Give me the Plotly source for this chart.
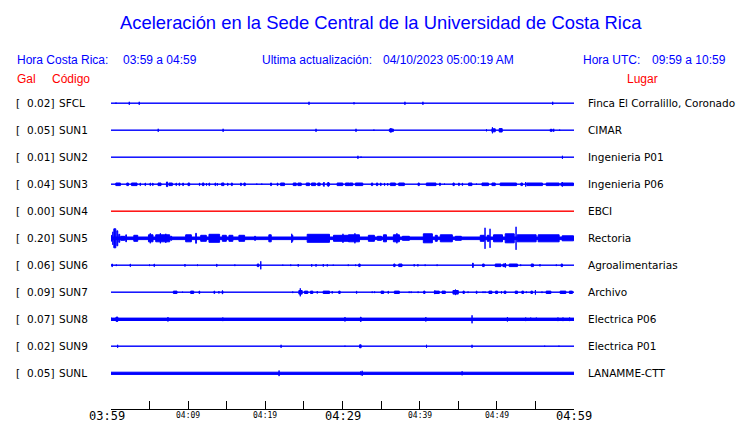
import plotly.graph_objects as go

# ---------------- data ----------------
STATIONS = ["SFCL", "SUN1", "SUN2", "SUN3", "SUN4", "SUN5", "SUN6", "SUN7", "SUN8", "SUN9", "SUNL"]
PEAK_GAL = [0.02, 0.05, 0.01, 0.04, 0.00, 0.20, 0.06, 0.09, 0.07, 0.02, 0.05]
PLACES = ["Finca El Corralillo, Coronado", "CIMAR", "Ingenieria P01", "Ingenieria P06", "EBCI",
          "Rectoria", "Agroalimentarias", "Archivo", "Electrica P06", "Electrica P01", "LANAMME-CTT"]
# background (noise) half-amplitude of each trace, in trace units
BASE_AMP = [0.6, 0.6, 0.6, 0.6, 0.6, 1.8, 0.6, 0.6, 1.7, 0.6, 1.6]

# events: (start minute, end minute, half-amplitude) ; minutes counted from 03:59
EV_SFCL = [(0.65, 0.65, 1.2), (2.37, 2.37, 2), (3.66, 3.66, 2), (25.66, 25.66, 2), (31.49, 31.49, 1.5),
           (38.09, 38.09, 2), (40.42, 40.42, 2), (57.24, 57.24, 2)]
EV_SUN1 = [(6.12, 6.12, 2), (14.53, 14.53, 2), (26.57, 26.57, 2), (31.75, 31.75, 2), (34.07, 34.07, 1.2),
           (36.01, 36.66, 1.8), (36.27, 36.27, 2.8), (48.66, 48.66, 1.5), (49.30, 49.86, 2), (49.43, 49.43, 3.5),
           (50.24, 50.76, 2.2), (56.85, 57.24, 1.5), (57.37, 57.37, 2), (58.14, 58.14, 1.2)]
EV_SUN2 = [(32.0, 32.0, 2), (32.4, 32.4, 1.2), (58.5, 58.5, 2)]
EV_SUN3 = [(0.56, 1.29, 1.8), (1.98, 2.33, 1.8), (2.59, 3.44, 1.8), (3.70, 3.88, 1.8), (4.35, 4.53, 1.8),
           (4.99, 5.18, 1.8), (5.34, 5.51, 1.8), (6.03, 6.55, 1.8), (7.12, 7.41, 2.8), (7.45, 8.02, 1.8),
           (8.36, 8.54, 1.8), (8.75, 8.97, 1.8), (9.23, 9.45, 1.8), (9.91, 10.26, 1.8), (11.39, 11.56, 1.8),
           (11.78, 12.11, 1.8), (12.33, 12.42, 1.8), (12.63, 12.85, 1.8), (13.41, 13.63, 1.8), (13.79, 13.79, 1.8),
           (14.27, 14.70, 1.8), (15.05, 15.22, 1.8), (15.53, 15.79, 1.8), (16.73, 16.95, 1.8), (17.16, 17.47, 1.8),
           (18.89, 18.89, 1.2), (19.54, 19.54, 1.2), (20.61, 20.87, 1.8), (21.48, 21.69, 1.8), (21.91, 22.55, 1.8),
           (23.55, 24.07, 1.8), (24.15, 24.72, 1.8), (25.23, 25.79, 1.8), (25.92, 26.57, 1.8), (26.73, 27.17, 1.8),
           (27.43, 27.64, 1.8), (27.60, 27.60, 2.8), (27.95, 28.38, 1.8), (28.16, 28.16, 2.8), (29.24, 30.10, 1.8),
           (30.32, 30.97, 1.8), (30.88, 31.40, 1.8), (31.61, 32.69, 1.8), (33.68, 33.98, 1.8), (34.33, 34.63, 1.8),
           (34.85, 35.07, 1.8), (35.37, 35.53, 1.8), (35.79, 35.92, 1.8), (36.14, 36.92, 1.8), (37.22, 38.08, 1.8),
           (39.73, 40.02, 1.8), (40.80, 42.18, 1.8), (42.52, 42.74, 1.8), (43.22, 43.22, 1.2), (44.25, 44.55, 1.8),
           (44.98, 45.20, 1.8), (45.46, 45.63, 1.8), (46.27, 46.84, 1.8), (47.36, 47.36, 1.2), (48.01, 48.99, 1.8),
           (49.30, 49.86, 1.8), (50.37, 52.61, 1.8), (53.05, 53.39, 1.8), (53.74, 53.74, 2.8), (53.83, 55.98, 1.8),
           (56.33, 58.14, 1.8), (58.23, 60.00, 1.8), (58.49, 58.49, 2.8)]
EV_SUN4 = []
EV_SUN5 = [(0.00, 0.17, 3.5), (0.17, 0.30, 7), (0.30, 0.69, 10), (0.69, 0.94, 8), (0.94, 1.20, 4.5),
           (1.20, 1.85, 2.5), (1.85, 2.07, 4), (2.89, 3.53, 3.5), (4.79, 5.51, 4), (5.09, 5.09, 5.5),
           (5.73, 7.67, 4), (6.40, 6.40, 5.5), (7.10, 7.10, 5), (7.67, 7.93, 2.5), (9.61, 10.48, 4),
           (10.91, 11.13, 5.5), (11.56, 12.42, 3.5), (12.63, 14.14, 4.5), (14.36, 15.01, 3.5), (15.22, 15.86, 3.5),
           (16.51, 17.38, 3.5), (18.54, 18.80, 2.5), (20.39, 20.83, 4), (23.42, 23.63, 3.5), (23.42, 23.42, 5),
           (25.36, 28.38, 4.5), (28.77, 30.97, 3.5), (30.06, 30.06, 5), (30.71, 32.26, 4), (31.61, 31.61, 5.5),
           (33.29, 34.20, 3.5), (34.46, 35.11, 2.5), (35.24, 35.76, 4), (36.53, 37.44, 4), (37.05, 37.05, 5.5),
           (37.70, 38.73, 2.5), (40.41, 41.71, 5), (41.96, 42.35, 3.5), (42.61, 44.30, 4), (44.55, 45.46, 2.5),
           (47.79, 48.43, 3.5), (48.47, 48.47, 11), (48.69, 49.08, 3.5), (49.12, 49.12, 10), (49.51, 50.80, 4),
           (51.02, 52.32, 5), (52.49, 52.49, 12), (52.57, 55.16, 4), (55.29, 58.14, 4), (58.40, 60.00, 3)]
EV_SUN6 = [(0.04, 0.26, 1.8), (0.69, 0.69, 1.3), (2.41, 2.59, 1.8), (4.99, 4.99, 1.3), (5.51, 5.69, 1.8),
           (9.52, 9.65, 1.8), (11.21, 11.21, 1.3), (13.63, 13.79, 1.8), (16.05, 16.05, 1.3), (18.89, 19.23, 1.8),
           (19.41, 19.41, 4.5), (22.26, 22.26, 1.1), (23.29, 23.29, 1.3), (24.20, 24.33, 1.8), (26.01, 26.01, 1.8),
           (26.57, 26.57, 1.8), (27.51, 27.51, 1.8), (28.03, 28.03, 1.6), (28.80, 28.80, 1.1), (30.75, 30.75, 1.3),
           (31.70, 31.70, 1.3), (32.04, 32.35, 1.8), (36.57, 36.88, 1.8), (37.22, 37.78, 1.8), (39.29, 39.29, 1.6),
           (39.77, 39.77, 1.6), (40.71, 40.71, 1.3), (42.26, 42.26, 1.3), (46.79, 47.01, 2.7), (48.09, 48.43, 1.8),
           (49.73, 50.60, 1.8), (50.72, 51.24, 1.8), (51.11, 51.11, 2.7), (51.54, 52.74, 1.8), (53.09, 53.09, 1.3),
           (54.39, 54.81, 1.8), (55.59, 55.59, 1.6), (57.71, 57.71, 1.3), (58.27, 58.57, 1.8)]
EV_SUN7 = [(8.02, 8.62, 1.7), (9.27, 9.27, 1.1), (10.26, 10.78, 1.7), (11.34, 11.56, 1.7), (13.28, 13.50, 1.7),
           (13.92, 14.05, 1.7), (14.36, 14.57, 1.7), (14.44, 14.44, 2.3), (23.55, 23.55, 1.3), (24.28, 24.84, 2.3),
           (24.53, 24.53, 4.5), (25.01, 25.57, 1.7), (25.79, 26.22, 1.7), (26.73, 26.73, 1.7), (27.43, 28.38, 1.7),
           (28.67, 28.67, 1.7), (29.45, 29.76, 1.7), (31.74, 31.91, 1.7), (33.85, 33.85, 1.3), (34.16, 34.16, 1.3),
           (34.94, 35.40, 1.7), (35.84, 36.01, 1.7), (36.66, 37.43, 1.7), (38.64, 38.64, 1.3), (38.90, 38.90, 1.3),
           (39.80, 39.80, 1.3), (40.45, 40.76, 1.7), (41.84, 42.61, 1.7), (41.96, 41.96, 2.3), (42.83, 43.39, 1.7),
           (44.25, 45.07, 2.3), (44.64, 44.64, 3.3), (45.55, 45.85, 1.7), (46.27, 46.27, 1.3), (47.27, 47.49, 1.7),
           (48.21, 48.21, 1.3), (48.47, 48.47, 1.3), (48.91, 49.43, 1.7), (49.77, 50.16, 1.7), (50.60, 50.60, 1.7),
           (50.89, 51.24, 1.7), (52.32, 52.74, 1.7), (53.18, 53.52, 1.7), (53.83, 53.83, 1.3), (54.35, 54.69, 1.7),
           (55.00, 55.00, 2.8), (55.85, 55.85, 1.3), (56.33, 57.07, 1.7), (58.14, 59.01, 1.7), (59.34, 59.86, 1.7)]
EV_SUN8 = [(0.00, 0.13, 2), (0.56, 0.98, 2.3), (0.78, 0.78, 3.2), (7.38, 7.38, 2.7), (14.49, 14.49, 2.3),
           (30.32, 30.32, 2.7), (32.26, 32.48, 2.7), (40.80, 40.80, 2.7), (46.79, 46.79, 4.5), (51.37, 51.37, 2.7),
           (53.74, 53.74, 2.3), (54.39, 54.39, 2.2), (55.12, 55.12, 2.2), (57.92, 57.92, 2.3), (58.57, 58.57, 2.3),
           (59.43, 59.43, 2.3)]
EV_SUN9 = [(0.86, 0.86, 2), (22.04, 22.04, 2), (30.32, 30.32, 1.1), (32.15, 32.48, 2), (40.89, 40.89, 2),
           (46.72, 46.85, 2), (56.20, 56.20, 1.1), (58.05, 58.05, 1.1)]
EV_SUNL = [(21.78, 21.78, 3.3), (32.35, 32.35, 2.3), (32.55, 32.55, 3), (45.50, 45.50, 2.5)]
EVENTS = [EV_SFCL, EV_SUN1, EV_SUN2, EV_SUN3, EV_SUN4, EV_SUN5, EV_SUN6, EV_SUN7, EV_SUN8, EV_SUN9, EV_SUNL]

TICK_MINUTES = [0, 5, 10, 15, 20, 25, 30, 35, 40, 45, 50, 55, 60]
MAJOR_TICK_MIN = [0, 30, 60]
MAJOR_TICK_TXT = ["03:59", "04:29", "04:59"]
MINOR_TICK_MIN = [10, 20, 40, 50]
MINOR_TICK_TXT = ["04:09", "04:19", "04:39", "04:49"]

TITLE = "Aceleración en la Sede Central de la Universidad de Costa Rica"
LOCAL_RANGE = "03:59 a 04:59"
UTC_RANGE = "09:59 a 10:59"
UPDATED = "04/10/2023 05:00:19 AM"

# ---------------- layout geometry ----------------
W, H = 740, 423
L, R, T, B = 111, 166, 90, 14
PW, PH = W - L - R, H - T - B
PX_PER_MIN = PW / 60.0
ROW_PX = 27.0
ROW0_PX = 103.3
AXIS_PX = H - B


def px_x(px):
    return (px - L) / PW


def px_y(py):
    return (AXIS_PX - py) / PH


BLUE = "#0000ff"
RED = "#ff0000"

fig = go.Figure()

for i, name in enumerate(STATIONS):
    color = RED if PEAK_GAL[i] == 0 else BLUE
    xs, ys = [], []

    def rect(t0, t1, a):
        h = max(a - 0.5, 0.0) / ROW_PX
        d = 0.5 / PX_PER_MIN
        a0, a1 = t0 + d, t1 - d
        if a1 < a0:
            a0 = a1 = (t0 + t1) / 2
        xs.extend([a0, a1, a1, a0, a0, None])
        ys.extend([i - h, i - h, i + h, i + h, i - h, None])

    rect(-0.2, 60.2, BASE_AMP[i])
    for (t0, t1, a) in EVENTS[i]:
        rect(t0, t1, a)
    fig.add_trace(go.Scatter(x=xs, y=ys, mode="lines", fill="toself", fillcolor=color,
                             line=dict(color=color, width=1), hoverinfo="skip", showlegend=False))

annotations = []


def ann(text, xpx, ypx, size, color, family, xanchor="left", yanchor="middle"):
    annotations.append(dict(text=text, x=px_x(xpx), y=px_y(ypx), xref="paper", yref="paper",
                            xanchor=xanchor, yanchor=yanchor, showarrow=False,
                            font=dict(size=size, color=color, family=family)))


SANS = "Liberation Sans, Arial, sans-serif"
DJ = "DejaVu Sans, sans-serif"
MONO = "DejaVu Sans Mono, monospace"

ann(TITLE, 381, 22, 18.4, BLUE, SANS, xanchor="center")
ann("Hora Costa Rica:", 15, 60, 12, BLUE, SANS)
ann(LOCAL_RANGE, 121, 60, 12, BLUE, SANS)
ann("Ultima actualización:", 260, 60, 12, BLUE, SANS)
ann(UPDATED, 381, 60, 12, BLUE, SANS)
ann("Hora UTC:", 581, 60, 12, BLUE, SANS)
ann(UTC_RANGE, 650, 60, 12, BLUE, SANS)
ann("Gal", 15, 79, 12, RED, SANS)
ann("Código", 50, 79, 12, RED, SANS)
ann("Lugar", 625, 79, 12, RED, SANS)

for i, name in enumerate(STATIONS):
    ypx = ROW0_PX + i * ROW_PX
    ann("[", 14, ypx, 10.5, "black", DJ)
    ann(f"{PEAK_GAL[i]:.2f}]", 56, ypx, 10.5, "black", DJ, xanchor="right")
    ann(name, 57, ypx, 10.5, "black", DJ)
    ann(PLACES[i], 586, ypx, 10.5, "black", DJ)

for m, txt in zip(MAJOR_TICK_MIN, MAJOR_TICK_TXT):
    cx = L + m * PX_PER_MIN
    if m == 0:
        cx -= 4  # first label sits slightly left of its tick in the original
    ann(txt, cx, 416, 12, "black", MONO, xanchor="center")
for m, txt in zip(MINOR_TICK_MIN, MINOR_TICK_TXT):
    ann(txt, L + m * PX_PER_MIN, 415, 8, "black", MONO, xanchor="center")

fig.update_layout(
    width=W, height=H,
    margin=dict(l=L, r=R, t=T, b=B, pad=0),
    paper_bgcolor="white", plot_bgcolor="white",
    showlegend=False,
    annotations=annotations,
    xaxis=dict(range=[0, 60], tickmode="array", tickvals=TICK_MINUTES, showticklabels=False,
               ticks="inside", ticklen=8, tickcolor="black", tickwidth=1,
               showline=True, linecolor="black", linewidth=1, showgrid=False, zeroline=False,
               fixedrange=True),
    yaxis=dict(range=[(AXIS_PX - ROW0_PX) / ROW_PX, -(ROW0_PX - T) / ROW_PX], visible=False,
               showgrid=False, zeroline=False, fixedrange=True),
)

fig.write_html("out.html", config={"displayModeBar": False},
               post_script="document.body.style.margin='0';document.body.style.padding='0';")
